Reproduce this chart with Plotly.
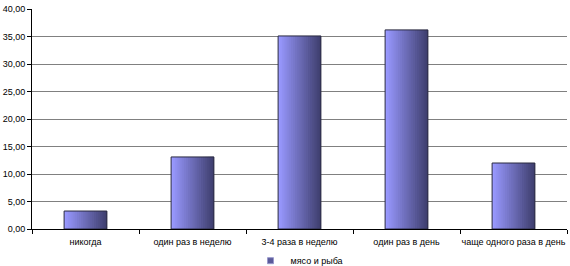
import plotly.graph_objects as go

categories = ["никогда", "один раз в неделю", "3-4 раза в неделю", "один раз в день", "чаще одного раза в день"]
values = [3.27, 13.1, 35.1, 36.2, 12.0]
series_name = "мясо и рыба"
y_ticks = [0, 5, 10, 15, 20, 25, 30, 35, 40]

light = (153, 153, 255)
dark = (64, 64, 112)
n_slices = 20
bar_width = 0.4
step = bar_width / n_slices

fig = go.Figure()
for i in range(n_slices):
    t = i / (n_slices - 1)
    c = tuple(int(light[k] + (dark[k] - light[k]) * t) for k in range(3))
    fig.add_trace(go.Bar(
        x=categories, y=values,
        width=bar_width - i * step,
        offset=-bar_width / 2 + i * step,
        marker=dict(color="rgb(%d,%d,%d)" % c, line=dict(width=0)),
        showlegend=False, hoverinfo="skip",
    ))
# outline
fig.add_trace(go.Bar(
    x=categories, y=values, width=bar_width,
    marker=dict(color="rgba(0,0,0,0)", line=dict(color="#2a2a40", width=1)),
    name=series_name, showlegend=False,
))
# legend entry
fig.add_trace(go.Scatter(
    x=[None], y=[None], name=series_name, mode="markers",
    marker=dict(symbol="square", size=6, color="#5a5a9a", line=dict(color="#9999cc", width=1)),
    showlegend=True,
))

fig.update_layout(
    width=570, height=266,
    margin=dict(l=32, r=3, t=9, b=37, autoexpand=False),
    barmode="overlay",
    paper_bgcolor="white", plot_bgcolor="white",
    separators=", ",
    font=dict(family="Liberation Sans, Arial, sans-serif", size=9, color="#000000"),
    showlegend=True,
    legend=dict(orientation="h", x=0.5, xanchor="center", yref="container", y=0.02, yanchor="middle",
                font=dict(size=9), itemwidth=30, bgcolor="rgba(0,0,0,0)"),
)
fig.update_xaxes(
    type="category", tickson="boundaries", ticks="outside", ticklen=4,
    tickcolor="#000000", showline=True, linecolor="#000000", linewidth=1,
    showgrid=False, range=[-0.5, 4.5], tickangle=0, automargin=False,
    ticklabelstandoff=4,
)
fig.update_yaxes(
    range=[0, 40], tickvals=y_ticks, tickformat=".2f",
    ticks="outside", ticklen=4, tickcolor="#000000",
    showline=True, linecolor="#000000", linewidth=1,
    showgrid=True, gridcolor="#808080", gridwidth=1, zeroline=False,
    automargin=False,
)
fig.write_html("out.html")
